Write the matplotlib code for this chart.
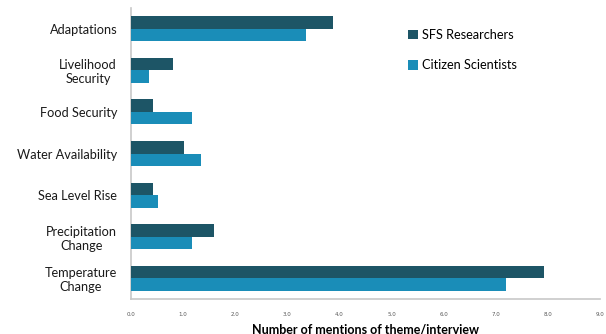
import matplotlib
matplotlib.use("Agg")
import matplotlib.pyplot as plt
import numpy as np

categories = ["Adaptations", "Livelihood\nSecurity", "Food Security", "Water Availability",
              "Sea Level Rise", "Precipitation\nChange", "Temperature\nChange"]
sfs = [3.87, 0.80, 0.43, 1.01, 0.43, 1.59, 7.93]
citizen = [3.35, 0.35, 1.18, 1.34, 0.51, 1.18, 7.20]
xticks = [0, 1, 2, 3, 4, 5, 6, 7, 8, 9]

plt.rcParams['font.family'] = ['Lato', 'DejaVu Sans']

fig = plt.figure(figsize=(6.06, 3.34), dpi=100)
ax = fig.add_axes([131/606, 1 - 299/334, 469/606, 291/334])

n = len(categories)
y = np.arange(n)
h = 0.3
ax.barh(y - h/2, sfs, height=h, color="#1d5566", label="SFS Researchers", zorder=3)
ax.barh(y + h/2, citizen, height=h, color="#1a8db8", label="Citizen Scientists", zorder=3)

ax.set_ylim(n - 0.5, -0.5)
ax.set_xlim(0, 9)
ax.set_yticks(y)
ax.set_yticklabels(categories, fontsize=9.2, color="#1a1a1a")
ax.set_xticks(xticks)
ax.set_xticklabels([f"{v:.1f}" for v in xticks], fontsize=4, color="#555555",
                   family="DejaVu Sans")
ax.tick_params(axis='y', length=0, pad=10)
ax.tick_params(axis='x', length=0, pad=9)
for lab in ax.get_yticklabels():
    lab.set_horizontalalignment('right')
    lab.set_multialignment('center')

for s in ["top", "right"]:
    ax.spines[s].set_visible(False)
for s in ["left", "bottom"]:
    ax.spines[s].set_color("#c8c8c8")
    ax.spines[s].set_linewidth(1.2)

ax.set_xlabel("Number of mentions of theme/interview", fontsize=9, fontweight='bold', labelpad=5)

leg = ax.legend(loc="upper left", bbox_to_anchor=(0.59, 0.928), frameon=False, fontsize=9.2,
                handlelength=0.8, handleheight=0.8, handletextpad=0.35, labelspacing=1.45,
                borderpad=0, borderaxespad=0)

fig.savefig("out.png", dpi=100)
